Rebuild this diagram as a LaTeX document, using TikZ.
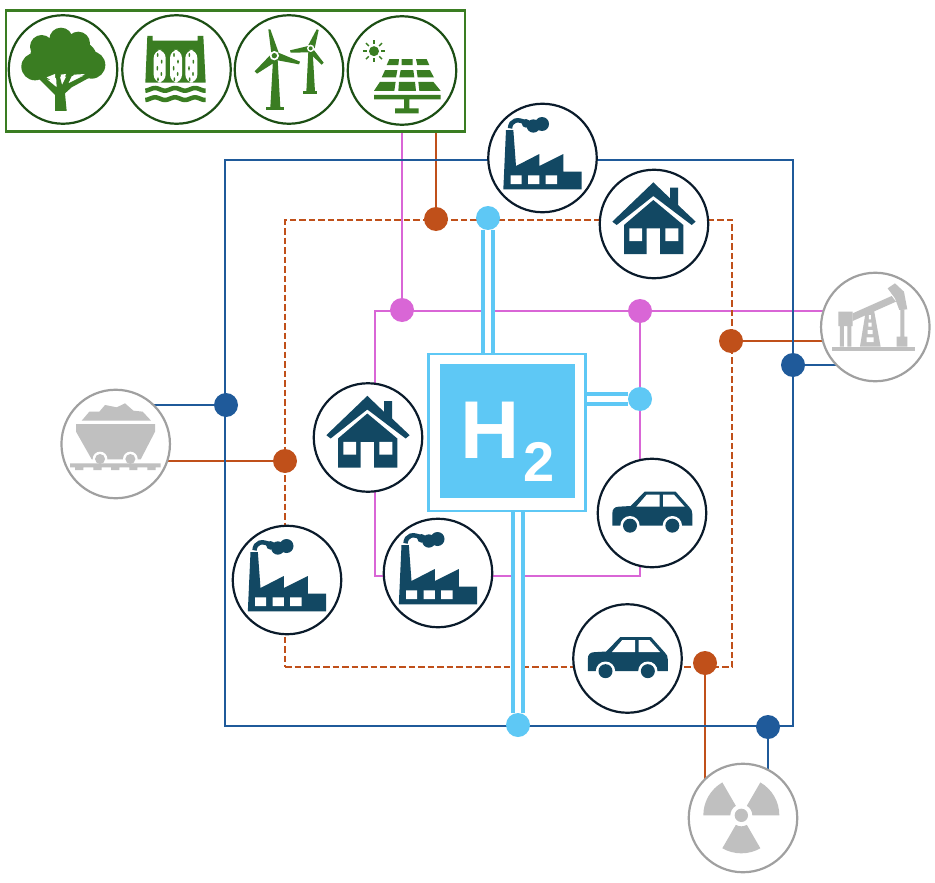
\documentclass[tikz,border=0pt]{standalone}
\usepackage{fontspec}
\setmainfont{Liberation Sans}
\usetikzlibrary{calc,backgrounds}
\definecolor{cblue}{HTML}{1F5A9A}
\definecolor{corange}{HTML}{C0501A}
\definecolor{cpink}{HTML}{D966D6}
\definecolor{ccyan}{HTML}{5EC8F5}
\definecolor{cgreen}{HTML}{3A7D22}
\definecolor{cdgreen}{HTML}{1C4F14}
\definecolor{cteal}{HTML}{124863}
\definecolor{cgrey}{HTML}{C0C0C0}
\definecolor{cgring}{HTML}{A0A0A0}
\definecolor{cink}{HTML}{0A1B2B}
\tikzset{
  x=1pt,y=-1pt,
  zoomfrom/.style 2 args={scale=1/3,shift={(-#1,-#2)}},
  iconc/.style={circle,draw=cink,fill=white,line width=2.2pt,minimum size=108.5pt,inner sep=0pt},
  greenc/.style={iconc,draw=cdgreen},
  greyc/.style={iconc,draw=cgring},
  dot/.style={circle,fill=#1,minimum size=24pt,inner sep=0pt},
  bluel/.style={draw=cblue,line width=2.2pt},
  orangel/.style={draw=corange,line width=2.2pt},
  pinkl/.style={draw=cpink,line width=2.2pt},
  orangedash/.style={orangel,line width=2pt,dash pattern=on 6.5pt off 3pt},
  hline/.style={draw=ccyan,line width=4pt,double=white,double distance=5.5pt},
  rectn/.style={rectangle,inner sep=0pt},
  housei/.pic={\begin{scope}[zoomfrom={522}{402},fill=cteal]
    \fill (520,277)--(570,325)--(570,293)--(594,293)--(594,345)--(647,395)--(635,405)--(520,318)--(410,405)--(397,395)--cycle;
    \fill (520,330)--(610,405)--(610,492)--(540,492)--(540,415)--(500,415)--(500,492)--(432,492)--(432,405)--cycle;
    \fill[white] (448,415) rectangle (486,453) (556,415) rectangle (595,453);
  \end{scope}},
  factoryi/.pic={\begin{scope}[zoomfrom={187.5}{204}]
    \fill[cteal] (70,298)--(78,120)--(100,120)--(108,228)--(178,192)--(178,228)--(250,192)--(250,245)--(305,245)--(305,298)--cycle;
    \fill[white] (92,256) rectangle (125,282) (144,256) rectangle (178,282) (197,256) rectangle (231,282);
    \draw[cteal,line width=4.5pt] (90,115) .. controls (92,90) and (112,85) .. (138,98);
    \fill[cteal] (138,100) circle (13) (160,108) circle (20) (186,102) circle (21);
  \end{scope}},
  cari/.pic={\begin{scope}[zoomfrom={174}{177}]
    \fill[cteal] (55,215)--(55,178) .. controls (55,165) and (62,158) .. (75,158) --(110,156)--(152,113)--(245,113)--(285,158) .. controls (292,165) and (295,170) .. (295,180)--(295,215)--cycle;
    \fill[white] (127,158)--(158,122)--(197,122)--(197,158)--cycle (207,122)--(240,122)--(272,158)--(207,158)--cycle;
    \fill[white] (108,215) circle (29) (235,215) circle (29);
    \fill[cteal] (108,215) circle (21) (235,215) circle (21);
  \end{scope}},
  treei/.pic={\begin{scope}[zoomfrom={189}{208.5}]
    \fill[cgreen] (125,140) circle (35) (183,118) circle (35) (235,130) circle (35) (105,200) circle (41) (275,195) circle (41) (190,170) ellipse (100 and 60) (150,215) circle (25) (235,205) circle (25);
    \fill[cgreen] (165,333)--(200,333)--(195,280)--(215,262)--(270,232)--(262,222)--(205,250)--(218,222)--(205,218)--(186,255)--(178,222)--(168,224)--(170,262)--(125,225)--(115,235)--(165,285)--cycle;
    \fill[white] (140,232)--(165,222)--(165,250)--cycle (182,224)--(198,222)--(188,248)--cycle (222,224)--(255,222)--(208,246)--cycle;
  \end{scope}},
  dami/.pic={\begin{scope}[zoomfrom={529.5}{208.5}]
    \fill[cgreen] (436,248)--(442,108)--(458,108)--(458,122)--(593,122)--(593,108)--(610,108)--(617,248)--cycle;
    \foreach \c in {479,528,574}{
      \fill[white,rounded corners=8pt] (\c-18,150) rectangle (\c+18,248);
      \fill[cgreen] (\c-6,165) ellipse (2.5 and 6) (\c+6,185) ellipse (2.5 and 6) (\c-7,205) ellipse (2.5 and 7) (\c+5,222) ellipse (2.5 and 6) (\c-5,238) ellipse (2.5 and 6);
    }
    \foreach \w in {268,296}{
      \draw[cgreen,line width=4.5pt] plot[domain=436:617,samples=50] (\x,{\w+4*sin(\x*6)});
    }
  \end{scope}},
  windi/.pic={\begin{scope}[zoomfrom={867}{208.5}]
    \fill[cgreen] (811,322)--(819,180)--(833,180)--(841,322)--cycle;
    \fill[cgreen] (798,320) rectangle (853,330);
    \fill[cgreen] (919,275)--(925,155)--(938,155)--(945,275)--cycle;
    \fill[cgreen] (910,272) rectangle (952,281);
    \fill[cgreen] (814,160)--(805,88)--(811,88)--(836,158)--cycle;
    \fill[cgreen] (835,158)--(900,185)--(897,193)--(828,180)--cycle;
    \fill[cgreen] (810,166)--(832,182)--(771,221)--(764,214)--cycle;
    \fill[cgreen] (925,135)--(950,88)--(956,90)--(944,145)--cycle;
    \fill[cgreen] (925,138)--(870,151)--(872,158)--(930,157)--cycle;
    \fill[cgreen] (940,148)--(971,188)--(965,194)--(924,155)--cycle;
    \fill[white] (823,167) circle (14) (932,145) circle (11);
    \fill[cgreen] (823,167) circle (8) (932,145) circle (6);
  \end{scope}},
  solari/.pic={\begin{scope}[zoomfrom={1206}{211}]
    \fill[cgreen] (1122,153) circle (15);
    \foreach \a in {0,45,...,315}{
      \draw[cgreen,line width=1.5pt] ($(1122,153)+(\a:22)$)--($(1122,153)+(\a:34)$);
    }
    \fill[cgreen] (1160,195)--(1168,177)--(1197,177)--(1195,195)--cycle (1205,195)--(1205,177)--(1238,177)--(1238,195)--cycle (1248,177)--(1280,177)--(1288,195)--(1252,195)--cycle;
    \fill[cgreen] (1145,232)--(1155,210)--(1192,210)--(1188,232)--cycle (1198,232)--(1202,210)--(1240,210)--(1243,232)--cycle (1250,210)--(1290,210)--(1302,232)--(1253,232)--cycle;
    \fill[cgreen] (1122,272)--(1140,245)--(1187,245)--(1183,272)--cycle (1195,272)--(1197,245)--(1245,245)--(1248,272)--cycle (1255,245)--(1300,245)--(1322,272)--(1258,272)--cycle;
    \fill[cgreen] (1122,284) rectangle (1322,298) (1212,298) rectangle (1228,325) (1185,325) rectangle (1256,340);
  \end{scope}},
  oili/.pic={\begin{scope}[zoomfrom={466}{201}]
    \fill[cgrey] (337,260) rectangle (585,274);
    \fill[cgrey] (355,155) rectangle (398,198) (360,198) rectangle (372,260) (382,198) rectangle (394,260);
    \fill[cgrey] (398,160)--(515,108)--(528,125)--(398,183)--cycle;
    \fill[cgrey] (503,85)--(525,70)--(552,95)--(562,148)--(538,150)--(525,115)--cycle;
    \fill[cgrey] (541,148) rectangle (553,230) (530,230) rectangle (562,260);
    \fill[cgrey] (438,150)--(462,150)--(482,260)--(420,260)--cycle;
    \fill[white] (447,165) rectangle (453,178) (445,188) rectangle (455,200) (443,210) rectangle (458,222) (440,232) rectangle (461,246);
  \end{scope}},
  coali/.pic={\begin{scope}[zoomfrom={197}{192}]
    \fill[cgrey] (95,122)--(118,95)--(148,95)--(165,75)--(200,82)--(225,70)--(250,92)--(278,95)--(303,122)--cycle;
    \fill[cgrey] (78,132)--(315,132)--(315,155)--(272,238)--(125,238)--(78,155)--cycle;
    \fill[white] (150,237) circle (22) (241,237) circle (22);
    \fill[cgrey] (150,237) circle (15) (241,237) circle (15);
    \fill[cgrey] (60,250) rectangle (332,262) (75,262) rectangle (100,270) (130,262) rectangle (155,270) (183,262) rectangle (208,270) (238,262) rectangle (262,270) (292,262) rectangle (317,270);
  \end{scope}},
  nucleari/.pic={\begin{scope}[zoomfrom={189}{205}]
    \begin{scope}[shift={(184,197)}]
      \fill[cgrey] (0,0) circle (20);
      \foreach \a in {-60,60,180}{
        \fill[cgrey] (\a:33)--(\a:114) arc[start angle=\a,delta angle=60,radius=114]--({\a+60}:33) arc[start angle={\a+60},delta angle=-60,radius=33]--cycle;
      }
    \end{scope}
  \end{scope}},
}
\pgfdeclarelayer{lines}
\pgfsetlayers{lines,main}
\begin{document}
\begin{tikzpicture}
\useasboundingbox (0,0) rectangle (935,883);
% frames
\node[rectn,bluel,draw,minimum width=568pt,minimum height=566pt] (bluerect) at (509,443) {};
\node[rectn,orangedash,draw,minimum width=447pt,minimum height=447pt] (orangerect) at (508.5,443.5) {};
\node[rectn,pinkl,draw,minimum width=265pt,minimum height=265pt] (pinkrect) at (507.5,443.5) {};
\node[rectn,draw=cgreen,line width=2.2pt,minimum width=459pt,minimum height=121pt] (greenbox) at (235.5,71) {};
% dots
\node[dot=cpink] (pd1) at (402,310) {};
\node[dot=cpink] (pd2) at (640,311) {};
\node[dot=corange] (od1) at (436,219) {};
\node[dot=corange] (od2) at (731,341) {};
\node[dot=corange] (od3) at (285,461) {};
\node[dot=corange] (od4) at (705,663) {};
\node[dot=cblue] (bd1) at (226,405) {};
\node[dot=cblue] (bd2) at (793,365) {};
\node[dot=cblue] (bd3) at (768,727) {};
\node[dot=ccyan] (cd1) at (488,218) {};
\node[dot=ccyan] (cd2) at (640,399) {};
\node[dot=ccyan] (cd3) at (518,725) {};
% hydrogen box
\node[rectn,draw=ccyan,fill=white,line width=2.4pt,minimum width=157pt,minimum height=157pt] (h2box) at (507,432.5) {};
\node[rectn,fill=ccyan,minimum width=135pt,minimum height=134pt] (h2core) at (507.5,431) {};
\node[inner sep=0pt,text=white,font=\fontsize{82}{82}\bfseries\selectfont] (h2h) at (490,430) {H};
\node[inner sep=0pt,text=white,font=\fontsize{56}{56}\bfseries\selectfont] (h2n) at (539.5,462) {2};
% hydrogen connectors
\draw[hline] (cd1) -- (cd1 |- h2box.north);
\draw[hline] (cd3) -- (cd3 |- h2box.south);
\draw[hline] (cd2) -- (cd2 -| h2box.east);
% green icons
\node[greenc] (tree) at (63,69.5) {};
\node[greenc] (dam) at (176.5,69.5) {};
\node[greenc] (wind) at (289,69.5) {};
\node[greenc] (solar) at (402,70.5) {};
\pic at (tree) {treei};
\pic at (dam) {dami};
\pic at (wind) {windi};
\pic at (solar) {solari};
% blue icons
\node[iconc] (ftop) at (542.5,158) {};
\node[iconc] (htop) at (654,224) {};
\node[iconc] (hleft) at (368,437.5) {};
\node[iconc] (fleft) at (287,580) {};
\node[iconc] (fmid) at (438,573) {};
\node[iconc] (cright) at (652,513) {};
\node[iconc] (cbot) at (627.5,658.5) {};
\pic at (ftop) {factoryi};
\pic at (htop) {housei};
\pic at (hleft) {housei};
\pic at (fleft) {factoryi};
\pic at (fmid) {factoryi};
\pic at (cright) {cari};
\pic at (cbot) {cari};
% grey icons
\node[greyc] (oil) at (875.3,327) {};
\node[greyc] (coal) at (115.7,444) {};
\node[greyc] (nuc) at (743,818) {};
\pic at (oil) {oili};
\pic at (coal) {coali};
\pic at (nuc) {nucleari};
% connectors under everything
\begin{pgfonlayer}{lines}
\draw[pinkl] (pd1) -- (pd1 |- greenbox.south);
\draw[orangel] (od1) -- (od1 |- greenbox.south);
\draw[pinkl] (pd2) -- (pd2 -| oil);
\draw[orangel] (od2) -- (od2 -| oil);
\draw[bluel] (bd2) -- (bd2 -| oil);
\draw[bluel] (bd1) -- (bd1 -| coal);
\draw[orangel] (od3) -- (od3 -| coal);
\draw[orangel] (od4) -- (od4 |- nuc);
\draw[bluel] (bd3) -- (bd3 |- nuc);
\end{pgfonlayer}
\end{tikzpicture}
\end{document}
